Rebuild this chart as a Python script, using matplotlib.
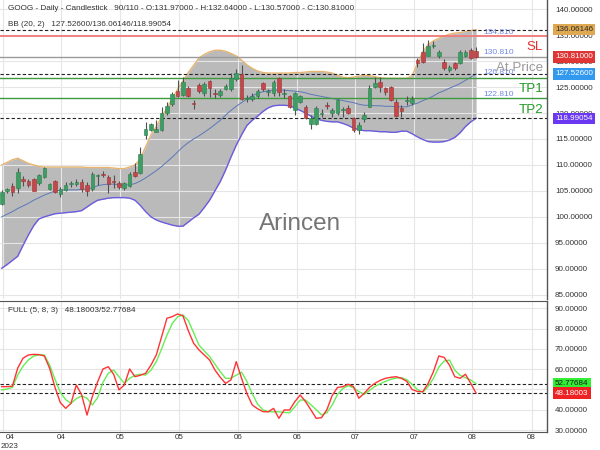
import numpy as np
import matplotlib
matplotlib.use('Agg')
import matplotlib.pyplot as plt
from matplotlib.transforms import ScaledTranslation

# ---------------- data ----------------
opens = [102.5, 105.0, 105.9, 105.6, 107.3, 106.9, 107.3, 106.5, 107.6, 105.4,
         106.9, 104.4, 105.2, 106.3, 106.3, 106.7, 106.1, 105.3, 107.9, 108.3,
         107.7, 106.8, 106.6, 105.5, 105.9, 108.6, 108.5, 115.8, 116.8, 116.4,
         116.7, 120.0, 121.7, 124.3, 123.5, 124.9, 122.0, 125.4, 123.8, 126.2,
         123.9, 123.5, 124.6, 124.6, 126.5, 127.5, 122.7, 122.7, 123.3, 125.7,
         124.0, 123.8, 126.7, 123.7, 123.2, 120.6, 122.2, 121.2, 117.8, 117.9,
         119.8, 121.6, 120.1, 120.0, 120.5, 120.9, 119.0, 116.8, 118.8, 121.2,
         125.0, 126.0, 124.8, 125.0, 122.2, 121.0, 122.4, 121.9, 130.3, 131.8,
         131.0, 133.0, 130.9, 129.9, 128.3, 129.7, 129.6, 131.0, 132.2, 131.97]
highs = [105.2, 105.6, 106.5, 109.5, 107.9, 107.2, 107.5, 108.3, 109.6, 106.6,
         107.1, 105.8, 106.7, 107.0, 107.3, 107.2, 106.7, 108.6, 108.2, 108.8,
         108.1, 108.0, 106.9, 106.8, 108.6, 110.3, 113.4, 118.3, 118.0, 118.7,
         121.1, 122.2, 124.0, 126.4, 127.0, 125.2, 122.5, 125.7, 126.0, 126.4,
         124.6, 124.6, 125.5, 127.7, 128.4, 129.2, 123.4, 123.9, 124.6, 126.0,
         124.6, 126.3, 127.0, 124.6, 123.4, 124.1, 123.4, 121.6, 119.6, 121.3,
         120.7, 122.1, 121.0, 122.8, 121.2, 121.6, 119.3, 118.3, 120.2, 125.4,
         127.0, 127.0, 125.1, 125.3, 122.8, 121.5, 123.2, 123.2, 130.6, 133.5,
         134.1, 133.8, 132.1, 130.4, 129.3, 129.9, 132.1, 132.1, 132.6, 132.64]
lows = [102.2, 104.6, 104.0, 104.5, 106.0, 105.8, 104.9, 106.1, 107.4, 105.2,
        104.5, 103.8, 104.9, 105.8, 105.9, 104.8, 104.0, 105.0, 106.1, 107.6,
        104.6, 105.5, 105.3, 105.2, 105.7, 107.7, 108.3, 115.0, 116.6, 116.3,
        116.6, 119.6, 121.4, 123.1, 123.3, 123.0, 120.8, 123.9, 123.3, 123.0,
        122.9, 123.1, 124.4, 124.3, 126.2, 122.5, 122.2, 122.4, 122.9, 124.2,
        123.3, 123.3, 123.2, 122.9, 120.9, 119.6, 121.9, 118.8, 116.9, 117.7,
        119.2, 120.8, 119.3, 119.6, 119.3, 119.9, 116.4, 116.0, 118.3, 121.1,
        124.8, 124.1, 123.5, 122.3, 119.2, 119.2, 121.5, 121.6, 128.9, 129.6,
        130.9, 132.5, 130.7, 128.3, 127.9, 128.3, 129.4, 130.8, 130.5, 130.57]
closes = [104.85, 105.3, 104.8, 108.6, 106.9, 106.1, 105.0, 108.0, 109.4, 106.4,
          104.8, 105.3, 106.1, 106.5, 106.8, 105.3, 105.0, 108.2, 108.1, 108.1,
          106.3, 106.7, 105.8, 106.5, 108.2, 107.9, 112.1, 116.9, 117.8, 116.9,
          120.0, 121.4, 123.6, 123.3, 125.9, 123.3, 121.8, 124.3, 125.6, 124.8,
          123.7, 124.3, 125.2, 126.7, 127.7, 122.8, 122.9, 123.3, 124.3, 124.6,
          124.2, 126.0, 124.1, 123.9, 121.2, 123.8, 123.2, 119.0, 119.0, 120.9,
          120.0, 121.3, 120.5, 122.5, 120.7, 120.1, 116.7, 117.6, 119.6, 124.8,
          125.7, 125.1, 124.0, 122.5, 119.4, 120.3, 122.6, 122.8, 129.6, 129.9,
          132.9, 133.2, 131.8, 128.6, 128.8, 128.6, 131.8, 131.8, 130.7, 130.81]

bb_upper = [110.0, 110.5, 111.0, 111.3, 110.8, 110.3, 110.0, 109.7, 109.6, 109.6,
            109.6, 109.6, 109.6, 109.6, 109.6, 109.6, 109.5, 109.5, 109.5, 109.5,
            109.5, 109.4, 109.3, 109.3, 109.6, 110.0, 111.2, 113.5, 115.8, 117.4,
            119.2, 121.0, 122.8, 124.6, 126.2, 127.8, 129.2, 130.6, 131.3, 131.8,
            132.1, 132.1, 131.9, 131.5, 131.0, 130.2, 129.3, 128.6, 128.1, 127.8,
            127.7, 127.7, 127.7, 127.7, 127.7, 127.8, 127.8, 127.9, 128.0, 128.0,
            128.0, 127.9, 127.7, 127.3, 126.9, 126.8, 126.9, 127.1, 127.3, 127.2,
            127.0, 126.8, 126.7, 126.7, 126.7, 126.7, 126.7, 127.2, 129.6, 131.8,
            133.2, 133.9, 134.4, 134.8, 135.2, 135.4, 135.5, 135.7, 135.9, 136.06146]
bb_mid = [100.0, 100.5, 101.0, 101.6, 102.1, 102.6, 103.2, 103.7, 104.2, 104.6,
          105.0, 105.1, 105.2, 105.2, 105.2, 105.3, 105.4, 105.6, 106.0, 106.2,
          106.3, 106.3, 106.2, 106.1, 106.2, 106.4, 106.9, 107.5, 108.2, 108.9,
          109.7, 110.6, 111.5, 112.5, 113.5, 114.3, 115.0, 115.6, 116.3, 117.0,
          117.8, 118.6, 119.6, 120.5, 121.3, 122.0, 122.7, 123.3, 123.8, 124.1,
          124.3, 124.4, 124.4, 124.4, 124.3, 124.2, 124.1, 123.9, 123.6, 123.4,
          123.2, 123.0, 122.8, 122.6, 122.4, 122.2, 122.0, 121.7, 121.5, 121.5,
          121.4, 121.4, 121.3, 121.3, 121.2, 121.2, 121.2, 121.6, 121.9, 122.4,
          122.8, 123.3, 123.9, 124.3, 124.8, 125.2, 125.7, 126.3, 126.9, 127.526]
bb_lower = [90.1, 90.8, 91.6, 92.4, 94.5, 96.5, 98.3, 99.6, 100.0, 100.3,
            100.6, 100.7, 100.8, 100.9, 101.0, 101.2, 101.9, 102.6, 103.2, 103.4,
            103.6, 103.7, 103.7, 103.7, 103.6, 103.2, 102.2, 101.0, 100.0, 99.4,
            99.0, 98.7, 98.4, 98.2, 98.2, 99.0, 99.8, 100.5, 101.8, 103.2,
            105.0, 106.8, 109.0, 111.5, 113.8, 115.8, 117.6, 118.6, 119.4, 120.3,
            121.0, 121.4, 121.5, 121.5, 121.4, 121.0, 120.5, 120.0, 119.4, 118.9,
            118.6, 118.4, 118.3, 118.3, 118.0, 117.6, 117.1, 116.8, 116.6, 116.6,
            116.5, 116.4, 116.4, 116.3, 116.3, 116.5, 116.5, 116.0, 115.4, 114.9,
            114.5, 114.4, 114.4, 114.5, 114.8, 115.3, 116.2, 117.4, 118.3, 118.99054]

stoch_k = [51.4, 51.4, 51.6, 60.5, 65.4, 67.0, 67.3, 67.2, 66.5, 60.4,
           51.0, 43.5, 40.7, 43.2, 52.2, 47.3, 37.4, 46.5, 53.8, 60.1,
           61.2, 57.5, 49.8, 52.2, 60.1, 56.3, 57.0, 58.0, 62.0, 67.0,
           76.0, 85.1, 85.9, 87.2, 86.3, 79.0, 72.8, 69.5, 67.0, 64.5,
           59.6, 56.0, 53.0, 54.7, 63.7, 55.5, 48.0, 42.4, 40.5, 39.1,
           39.0, 40.7, 35.8, 39.9, 39.9, 44.0, 47.3, 44.0, 40.0, 35.8,
           36.1, 40.0, 47.0, 51.0, 51.4, 52.6, 51.4, 45.7, 48.1, 51.0,
           53.0, 54.5, 55.5, 56.0, 56.3, 55.5, 54.0, 50.0, 49.0, 48.9,
           53.0, 58.8, 66.5, 65.8, 62.0, 56.3, 55.5, 57.5, 53.0, 48.18003]
stoch_d = [49.8, 50.2, 51.0, 57.1, 61.5, 64.5, 66.5, 67.0, 67.0, 62.0,
           55.0, 48.5, 45.0, 43.2, 45.5, 46.8, 45.7, 42.4, 46.0, 53.5,
           58.0, 59.6, 56.3, 53.0, 55.5, 57.0, 57.5, 57.1, 59.5, 63.7,
           70.0, 76.8, 82.5, 85.8, 86.7, 84.0, 78.0, 71.9, 69.0, 66.2,
           62.5, 58.8, 55.5, 55.5, 57.1, 58.5, 54.0, 48.0, 42.8, 40.0,
           39.1, 39.0, 39.0, 38.7, 38.5, 41.5, 44.8, 44.8, 42.5, 40.0,
           37.5, 38.5, 42.4, 47.5, 50.5, 51.9, 50.8, 49.0, 47.6, 49.5,
           51.5, 52.8, 54.0, 55.0, 55.6, 55.8, 54.8, 52.5, 50.0, 48.6,
           51.5, 55.5, 61.0, 64.0, 64.5, 59.5, 57.0, 55.8, 54.7, 52.77684]

month_labels = ['04', '04', '05', '05', '06', '06', '07', '07', '08', '08']
year_label = '2023'

sl_level = 134.810
entry_level = 130.810
tp1_level = 126.810
tp2_level = 122.810
last_close = 130.81

title_text = "GOOG - Daily - Candlestick   90/110 - O:131.97000 - H:132.64000 - L:130.57000 - C:130.81000"
bb_text = "BB (20, 2)   127.52600/136.06146/118.99054"
stoch_text = "FULL (5, 8, 3)   48.18003/52.77684"

# ---------------- layout ----------------
plt.rcParams['font.family'] = ['Liberation Sans', 'DejaVu Sans']
W, H = 600, 450
fig = plt.figure(figsize=(6, 4.5), dpi=100)


def rect(l, t, r, b):
    return [l / W, 1 - b / H, (r - l) / W, (b - t) / H]


ax = fig.add_axes(rect(0, 0, 547, 299))
ax2 = fig.add_axes(rect(0, 300.7, 547, 431.7), sharex=ax)

x = np.arange(len(closes))
tick_pos = [0.19, 11.13, 22.2, 33.3, 44.28, 55.35, 66.34, 77.4, 88.3, 99.4]

grid_c = '#e6e6e6'
for a in (ax, ax2):
    a.set_facecolor('white')
    a.set_axisbelow('line')
    a.grid(True, color=grid_c, lw=0.8)
    for s in a.spines.values():
        s.set_visible(False)
    a.spines['right'].set_visible(True)
    a.spines['right'].set_color('#555555')
    a.spines['right'].set_linewidth(1.0)
    a.yaxis.tick_right()
    a.tick_params(axis='y', length=0, pad=5.8, labelsize=5.8, labelcolor='#333333')
    a.tick_params(axis='x', length=0)

ax2.spines['top'].set_visible(True)
ax2.spines['bottom'].set_visible(True)
ax2.spines['top'].set_color('#555555')
ax2.spines['bottom'].set_color('#555555')

ax.set_xlim(-0.32, 102.3)
ax.set_ylim(84.17, 141.78)
ax2.set_ylim(29.2, 93.74)

ax.set_yticks(np.arange(85, 141, 5))
ax.yaxis.set_major_formatter(matplotlib.ticker.FormatStrFormatter('%.5f'))
ax2.set_yticks(np.arange(30, 91, 10))
ax2.yaxis.set_major_formatter(matplotlib.ticker.FormatStrFormatter('%.5f'))

ax.set_xticks(tick_pos)
ax.tick_params(axis='x', labelbottom=False)
ax2.set_xticks(tick_pos)
ax2.set_xticklabels(month_labels)
ax2.tick_params(axis='x', labelsize=5.8, labelcolor='#333333', pad=2)
lbl0 = ax2.get_xticklabels()[0]
lbl0.set_transform(lbl0.get_transform() + ScaledTranslation(7 / 100, 0, fig.dpi_scale_trans))

# Bollinger bands
ax.fill_between(x, bb_lower, bb_upper, color='#bababa', lw=0, zorder=1)
ax.plot(x, bb_upper, color='#e8b470', lw=1.0, zorder=2)
ax.plot(x, bb_lower, color='#6b5ce0', lw=1.0, zorder=2)
ax.plot(x, bb_mid, color='#5a78b8', lw=0.7, zorder=2)

# horizontal level lines
dash = (0, (3, 2))
for lv in (bb_upper[-1], bb_mid[-1], bb_lower[-1]):
    ax.axhline(lv, color='#222222', lw=0.8, ls=dash, zorder=2.5)
ax.axhline(sl_level, color='#f07878', lw=1.3, zorder=2.5)
ax.axhline(last_close, color='#9a9a9a', lw=1.0, zorder=2.5)
ax.axhline(tp1_level, color='#3f9a3f', lw=1.0, zorder=2.5)
ax.axhline(tp2_level, color='#3f9a3f', lw=1.0, zorder=2.5)

# candles
o = np.array(opens); c = np.array(closes)
hi = np.array(highs); lo = np.array(lows)
up = c >= o
body_c = np.where(up, '#3c9e62', '#c4474a')
edge_c = np.where(up, '#2f7d4d', '#9e3437')
ax.vlines(x, lo, hi, color='#505050', lw=0.8, zorder=3)
heights = np.maximum(np.abs(c - o), 0.15)
ax.bar(x, heights, bottom=np.minimum(o, c), width=0.68, color=body_c,
       edgecolor=edge_c, lw=0.4, zorder=4)

# stochastic
ax2.plot(x, stoch_d, color='#66ee55', lw=1.0, zorder=3)
ax2.plot(x, stoch_k, color='#ff3333', lw=1.0, zorder=4)
ax2.axhline(stoch_d[-1], color='#222222', lw=0.8, ls=dash, zorder=2.5)
ax2.axhline(stoch_k[-1], color='#222222', lw=0.8, ls=dash, zorder=2.5)


# right-side value boxes
def value_box(a, val, fc, tc):
    a.annotate('%.5f' % val, xy=(1.0, val), xycoords=('axes fraction', 'data'),
               xytext=(5.8, 0), textcoords='offset points', ha='left', va='center',
               fontsize=5.8, color=tc, zorder=10, annotation_clip=False,
               bbox=dict(boxstyle='square,pad=0.28', fc=fc, ec='none'))


value_box(ax, bb_upper[-1], '#dfa852', '#2a2a2a')
value_box(ax, last_close, '#e03535', 'white')
value_box(ax, bb_mid[-1], '#3399ee', 'white')
value_box(ax, bb_lower[-1], '#6a38f0', 'white')
value_box(ax2, stoch_d[-1], '#33ee33', '#1a1a1a')
value_box(ax2, stoch_k[-1], '#ee2222', 'white')


def ftext(px, py, s, **kw):
    fig.text(px / W, 1 - py / H, s, va='center', **kw)


ftext(8, 9, title_text, fontsize=5.9, color='#333333')
ftext(8, 24, bb_text, fontsize=5.9, color='#333333')
ftext(8, 311, stoch_text, fontsize=5.9, color='#333333')
ftext(10, 447, year_label, fontsize=5.8, color='#333333', ha='center')

# level labels
lvl_c = '#7088e0'
ftext(483, 32, '%.3f' % sl_level, fontsize=6, color=lvl_c)
ftext(483, 52, '%.3f' % entry_level, fontsize=6, color=lvl_c)
ftext(483, 72.5, '%.3f' % tp1_level, fontsize=6, color=lvl_c)
ftext(483, 94.3, '%.3f' % tp2_level, fontsize=6, color=lvl_c)

ftext(543, 47, 'SL', fontsize=9.6, color='#e53030', ha='right')
ftext(543, 68, 'At Price', fontsize=9.6, color='#888888', ha='right', alpha=0.85)
ftext(543, 89, 'TP1', fontsize=9.6, color='#239a23', ha='right')
ftext(543, 110, 'TP2', fontsize=9.6, color='#239a23', ha='right')

ftext(300, 224, 'Arincen', fontsize=17.5, color='#666666', ha='center', alpha=0.9)

fig.savefig('out.png', dpi=100)
